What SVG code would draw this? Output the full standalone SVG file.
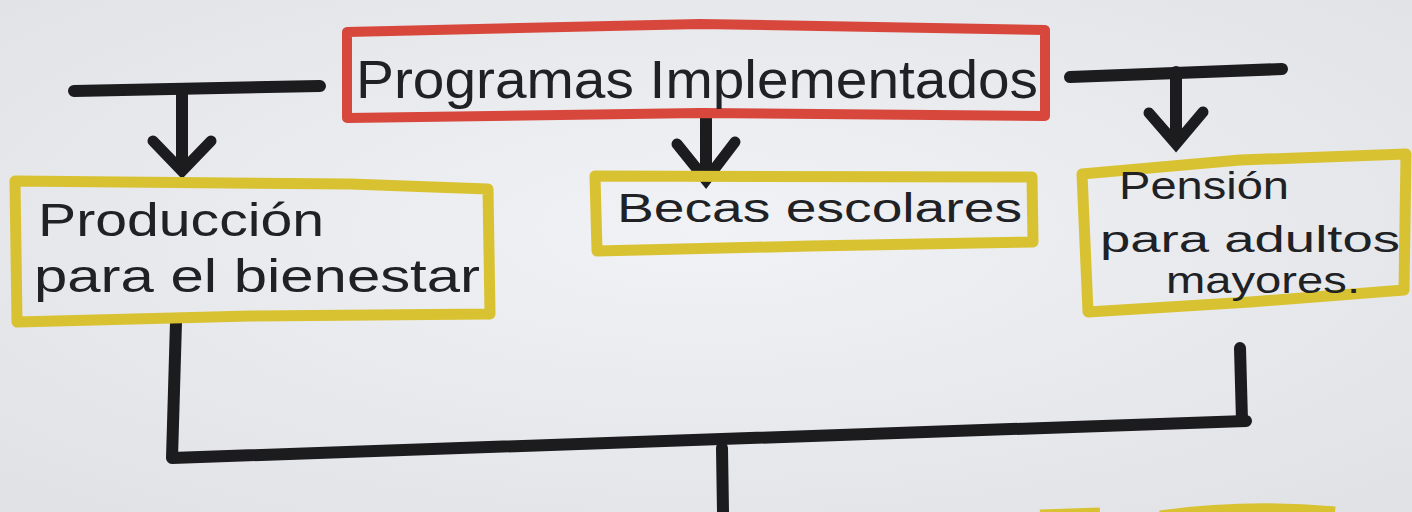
<svg xmlns="http://www.w3.org/2000/svg" width="1412" height="512" viewBox="0 0 1412 512">
<defs>
<style>
.red{fill:none;stroke:#d8473c;stroke-width:10;stroke-linejoin:round}
.yel{fill:none;stroke:#d9c232;stroke-width:11;stroke-linejoin:round}
.ink{fill:none;stroke:#1c1c1e;stroke-width:12;stroke-linecap:round;stroke-linejoin:round}
.head{fill:none;stroke:#1c1c1e;stroke-width:11;stroke-linecap:round;stroke-linejoin:miter}
.t{font-family:"Liberation Sans","DejaVu Sans",sans-serif;fill:#202124;font-weight:normal}
</style>
<radialGradient id="paper" cx="50%" cy="45%" r="75%">
<stop offset="0" stop-color="#f1f2f5"/>
<stop offset="1" stop-color="#dfe1e5"/>
</radialGradient>
</defs>
<rect x="0" y="0" width="1412" height="512" fill="url(#paper)"/>

<g id="connectors">
<path class="ink" d="M74,91 L320,86"/>
<path class="ink" d="M182,90 L182,168"/>
<path class="head" d="M153,141 L182,171 L211,141"/>
<path class="ink" d="M706,114 L706,178"/>
<path class="head" d="M677,144 L706,180 L735,142"/>
<path class="ink" d="M1070,77 L1282,69"/>
<path class="ink" d="M1176,72 L1176,140"/>
<path class="head" d="M1149,113 L1176,144 L1203,112"/>
<path class="ink" d="M176,322 L172,458 L1246,421"/>
<path class="ink" d="M1240,348 L1242,421"/>
<path class="ink" d="M722,448 L723,512"/>
</g>

<g id="node-programas">
<path class="red" d="M347,32 L700,24 L1045,30 L1045,116 L700,113 L347,118 Z"/>
<text class="t" x="356" y="98" font-size="54" textLength="682" lengthAdjust="spacingAndGlyphs">Programas Implementados</text>
</g>

<g id="node-produccion">
<path class="yel" d="M15,181 L350,184 L488,189 L490,314 L250,316 L17,322 Z"/>
<text class="t" x="38" y="236" font-size="46" textLength="286" lengthAdjust="spacingAndGlyphs">Producción</text>
<text class="t" x="34" y="292" font-size="46" textLength="446" lengthAdjust="spacingAndGlyphs">para el bienestar</text>
</g>

<g id="node-becas">
<path class="yel" d="M595,176 L1032,177 L1033,242 L810,246 L597,251 Z"/>
<text class="t" x="617" y="222" font-size="40" textLength="405" lengthAdjust="spacingAndGlyphs">Becas escolares</text>
</g>

<g id="node-pension">
<path class="yel" d="M1082,174 L1240,160 L1406,154 L1404,290 L1250,302 L1088,312 Z"/>
<text class="t" x="1119" y="199" font-size="38" textLength="170" lengthAdjust="spacingAndGlyphs">Pensión</text>
<text class="t" x="1100" y="252" font-size="37" textLength="300" lengthAdjust="spacingAndGlyphs">para adultos</text>
<text class="t" x="1166" y="293" font-size="36" textLength="194" lengthAdjust="spacingAndGlyphs">mayores.</text>
</g>

<g id="node-bottom-partial">
<path class="yel" d="M1040,515 L1100,513" stroke-width="8"/>
<path class="yel" d="M1160,516 Q1245,504 1335,512" stroke-width="9"/>
</g>
</svg>
